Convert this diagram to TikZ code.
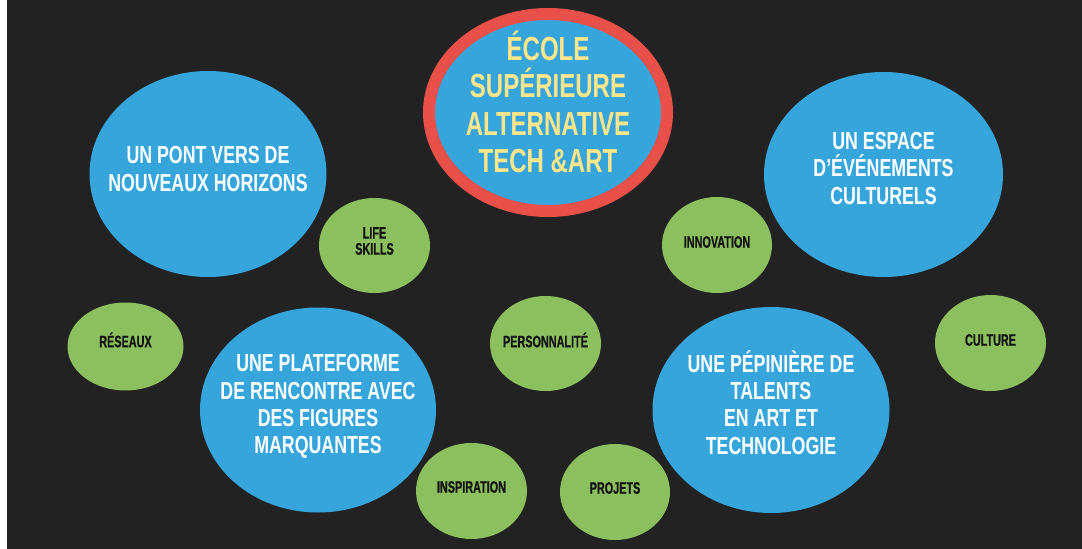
\documentclass[tikz,border=0pt]{standalone}
\usepackage{fontspec}
\setmainfont[FakeStretch=0.72]{Liberation Sans}
\newfontfamily\narrowfont[FakeStretch=0.65,FakeBold=0.6]{Liberation Sans}
\usetikzlibrary{shapes.geometric}
\definecolor{bgdark}{HTML}{222222}
\definecolor{bblue}{HTML}{35A5DB}
\definecolor{bgreen}{HTML}{8CC05F}
\definecolor{bred}{HTML}{E9504A}
\definecolor{byellow}{HTML}{FFE68A}
\definecolor{ink}{HTML}{141414}
\begin{document}
\begin{tikzpicture}[x=0.75pt,y=-0.75pt,
  blueblob/.style={ellipse, fill=bblue, inner sep=0pt},
  greenblob/.style={ellipse, fill=bgreen, inner sep=0pt},
  coreblob/.style={ellipse, fill=bblue, draw=bred, line width=9pt, inner sep=0pt},
  bigtext/.style={text=white, align=center, inner sep=0pt, font=\bfseries\fontsize{18.5}{20.5}\selectfont},
  smalltext/.style={text=ink, align=center, inner sep=0pt, font=\narrowfont\bfseries\fontsize{12.5}{12}\selectfont},
  titletext/.style={text=byellow, align=center, inner sep=0pt, font=\bfseries\fontsize{25}{28}\selectfont}
]
\useasboundingbox (0,0) rectangle (1082,549);
\fill[white] (0,0) rectangle (1082,549);
\fill[bgdark] (7,0) rectangle (1082,549);

% central
\node[coreblob, minimum width=238*0.75pt, minimum height=197*0.75pt] (core) at (548,112.5) {};
\node[titletext] (core-t) at (548,102) {ÉCOLE\\SUPÉRIEURE\\ALTERNATIVE\\TECH \&ART};

% blue blobs
\node[blueblob, minimum width=237*0.75pt, minimum height=206*0.75pt] (pont) at (208,174) {};
\node[bigtext] (pont-t) at (208,169) {UN PONT VERS DE\\NOUVEAUX HORIZONS};

\node[blueblob, minimum width=239*0.75pt, minimum height=205*0.75pt] (espace) at (883.5,174.5) {};
\node[bigtext] (espace-t) at (883.5,168.5) {UN ESPACE\\D’ÉVÉNEMENTS\\CULTURELS};

\node[blueblob, minimum width=236*0.75pt, minimum height=205*0.75pt] (plateforme) at (318,410) {};
\node[bigtext] (plateforme-t) at (318,406.5) {UNE PLATEFORME\\DE RENCONTRE AVEC\\DES FIGURES\\MARQUANTES};

\node[blueblob, minimum width=237*0.75pt, minimum height=206*0.75pt] (pepiniere) at (771,410) {};
\node[bigtext] (pepiniere-t) at (771,402.5) {UNE PÉPINIÈRE DE\\TALENTS\\EN ART ET\\TECHNOLOGIE};

% green blobs
\node[greenblob, minimum width=111*0.75pt, minimum height=95*0.75pt] (life) at (374.5,245.5) {};
\node[smalltext] (life-t) at (374.5,241) {LIFE\\SKILLS};

\node[greenblob, minimum width=110*0.75pt, minimum height=96*0.75pt] (innovation) at (717,245) {};
\node[smalltext] (innovation-t) at (717,242) {INNOVATION};

\node[greenblob, minimum width=116*0.75pt, minimum height=88*0.75pt] (reseaux) at (125.5,346.5) {};
\node[smalltext] (reseaux-t) at (125.5,340) {RÉSEAUX};

\node[greenblob, minimum width=111*0.75pt, minimum height=95*0.75pt] (personnalite) at (545.5,343.5) {};
\node[smalltext] (personnalite-t) at (545.5,340) {PERSONNALITÉ};

\node[greenblob, minimum width=111*0.75pt, minimum height=96*0.75pt] (culture) at (990.5,343) {};
\node[smalltext] (culture-t) at (990.5,340) {CULTURE};

\node[greenblob, minimum width=111*0.75pt, minimum height=96*0.75pt] (inspiration) at (471.5,491) {};
\node[smalltext] (inspiration-t) at (471.5,487) {INSPIRATION};

\node[greenblob, minimum width=110*0.75pt, minimum height=96*0.75pt] (projets) at (615,492) {};
\node[smalltext] (projets-t) at (615,488) {PROJETS};
\end{tikzpicture}
\end{document}
